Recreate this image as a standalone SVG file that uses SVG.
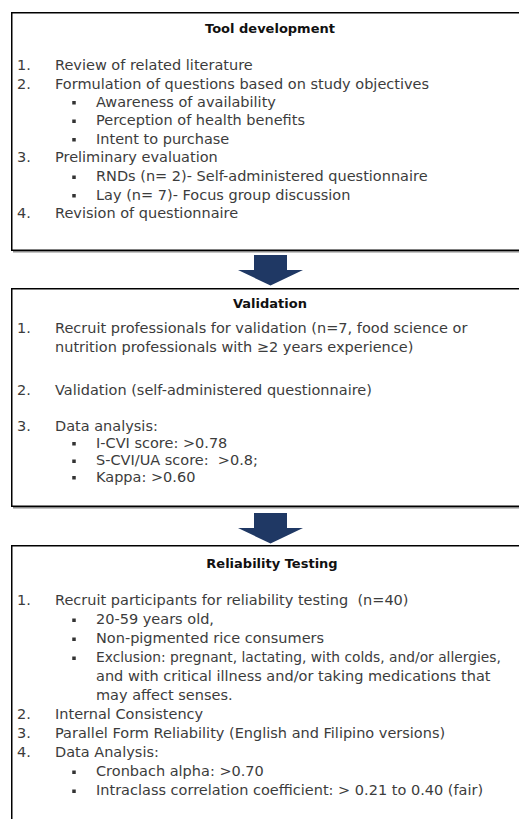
<svg xmlns="http://www.w3.org/2000/svg" xmlns:xlink="http://www.w3.org/1999/xlink" width="519" height="819" viewBox="0 0 519 819">
<style>
.box{fill:#fff;stroke:#000;stroke-width:1.5}
.shadow{fill:none;stroke:#8a8a8a;stroke-width:2}
.t{font-family:"DejaVu Sans","Liberation Sans",sans-serif;font-size:14.5px;fill:#3c3c3c}
.h{font-family:"DejaVu Sans","Liberation Sans",sans-serif;font-size:13px;font-weight:bold;fill:#111;text-anchor:middle}
.b{fill:#333}
.arrow{fill:#1f3864}
</style>
<defs>
<rect id="bul" class="b" x="-1.75" y="-5.5" width="3.5" height="3.5"/>
</defs>
<rect width="519" height="819" fill="#fff"/>

<g id="connectors">
<path class="arrow" d="M254 255 H287 V270 H303 L270.5 285.5 L238 270 H254 Z"/>
<path class="arrow" d="M254 513 H287 V528 H303 L270.5 543.5 L238 528 H254 Z"/>
</g>

<g id="tool-development">
<path class="shadow" d="M13 251.5 H519"/>
<rect class="box" x="11.75" y="12.75" width="508" height="237.5"/>
<text class="h" x="270" y="33">Tool development</text>
<text class="t" x="17" y="69.5">1.</text><text class="t" x="55" y="69.5">Review of related literature</text>
<text class="t" x="17" y="88.5">2.</text><text class="t" x="55" y="88.5">Formulation of questions based on study objectives</text>
<use xlink:href="#bul" x="74" y="106.5"/><text class="t" x="96" y="106.5">Awareness of availability</text>
<use xlink:href="#bul" x="74" y="125"/><text class="t" x="96" y="125">Perception of health benefits</text>
<use xlink:href="#bul" x="74" y="143.5"/><text class="t" x="96" y="143.5">Intent to purchase</text>
<text class="t" x="17" y="162">3.</text><text class="t" x="55" y="162">Preliminary evaluation</text>
<use xlink:href="#bul" x="74" y="181"/><text class="t" x="96" y="181">RNDs (n= 2)- Self-administered questionnaire</text>
<use xlink:href="#bul" x="74" y="199.5"/><text class="t" x="96" y="199.5">Lay (n= 7)- Focus group discussion</text>
<text class="t" x="17" y="218">4.</text><text class="t" x="55" y="218">Revision of questionnaire</text>
</g>

<g id="validation">
<path class="shadow" d="M13 507.5 H519"/>
<rect class="box" x="11.75" y="288.75" width="508" height="217.5"/>
<text class="h" x="270" y="308">Validation</text>
<text class="t" x="17" y="332.5">1.</text><text class="t" x="55" y="332.5">Recruit professionals for validation (n=7, food science or</text>
<text class="t" x="55" y="351.5">nutrition professionals with ≥2 years experience)</text>
<text class="t" x="17" y="394.5">2.</text><text class="t" x="55" y="394.5">Validation (self-administered questionnaire)</text>
<text class="t" x="17" y="430.5">3.</text><text class="t" x="55" y="430.5">Data analysis:</text>
<use xlink:href="#bul" x="74" y="447.5"/><text class="t" x="96" y="447.5">I-CVI score: &gt;0.78</text>
<use xlink:href="#bul" x="74" y="465"/><text class="t" x="96" y="465" xml:space="preserve">S-CVI/UA score:  &gt;0.8;</text>
<use xlink:href="#bul" x="74" y="481.5"/><text class="t" x="96" y="481.5">Kappa: &gt;0.60</text>
</g>

<g id="reliability-testing">
<path class="box" d="M11.75 830 V545.75 H519.75"/>
<text class="h" x="272" y="568">Reliability Testing</text>
<text class="t" x="17" y="605">1.</text><text class="t" x="55" y="605" xml:space="preserve">Recruit participants for reliability testing  (n=40)</text>
<use xlink:href="#bul" x="74" y="624"/><text class="t" x="96" y="624">20-59 years old,</text>
<use xlink:href="#bul" x="74" y="643"/><text class="t" x="96" y="643">Non-pigmented rice consumers</text>
<use xlink:href="#bul" x="74" y="662"/><text class="t" x="96" y="662" style="font-size:13.8px">Exclusion: pregnant, lactating, with colds, and/or allergies,</text>
<text class="t" x="96" y="681">and with critical illness and/or taking medications that</text>
<text class="t" x="96" y="700">may affect senses.</text>
<text class="t" x="17" y="719">2.</text><text class="t" x="55" y="719">Internal Consistency</text>
<text class="t" x="17" y="738">3.</text><text class="t" x="55" y="738">Parallel Form Reliability (English and Filipino versions)</text>
<text class="t" x="17" y="757">4.</text><text class="t" x="55" y="757">Data Analysis:</text>
<use xlink:href="#bul" x="74" y="776"/><text class="t" x="96" y="776">Cronbach alpha: &gt;0.70</text>
<use xlink:href="#bul" x="74" y="795"/><text class="t" x="96" y="795">Intraclass correlation coefficient: &gt; 0.21 to 0.40 (fair)</text>
</g>
</svg>
